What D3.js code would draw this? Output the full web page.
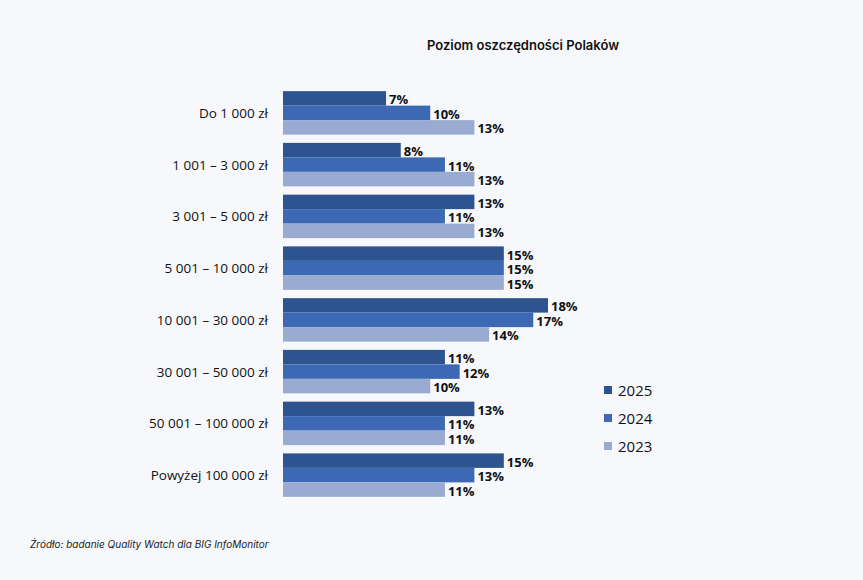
<!DOCTYPE html>
<html><head><meta charset="utf-8">
<script src="https://cdn.jsdelivr.net/npm/d3@7"></script>
<style>body{margin:0;background:#f7f8fc;}</style>
</head><body>
<svg id="chart" width="863" height="580"></svg>
<script>
var categories = ['Do 1 000 zł', '1 001 – 3 000 zł', '3 001 – 5 000 zł', '5 001 – 10 000 zł',
    '10 001 – 30 000 zł', '30 001 – 50 000 zł', '50 001 – 100 000 zł', 'Powyżej 100 000 zł'];
var years = ['2025', '2024', '2023'];
var values2025 = [7, 8, 13, 15, 18, 11, 13, 15];
var values2024 = [10, 11, 11, 15, 17, 12, 11, 13];
var values2023 = [13, 13, 13, 15, 14, 10, 11, 11];
var colors = ['#2e5490', '#3d68b3', '#9aabd1'];

var series = [values2025, values2024, values2023];
var svg = d3.select('#chart');
svg.append('rect').attr('width', 863).attr('height', 580).attr('fill', '#f7f8fc');

var x = d3.scaleLinear().domain([0, 18]).range([283, 548]);
var y = d3.scaleBand().domain(categories).range([87, 501]).paddingInner(0.16).paddingOuter(0.08);
var sub = d3.scaleBand().domain(years).range([0, y.bandwidth()]);

svg.append('text').attr('x', 523).attr('y', 50).attr('text-anchor', 'middle')
    .attr('font-family', 'Inter, sans-serif').attr('font-size', 13).attr('font-weight', 600)
    .attr('fill', '#111').text('Poziom oszczędności Polaków');

var groups = svg.selectAll('g.cat').data(categories).enter().append('g')
    .attr('transform', function(d) { return 'translate(0,' + y(d) + ')'; });

groups.append('text').attr('x', 268).attr('y', y.bandwidth() / 2 + 5).attr('text-anchor', 'end')
    .attr('font-family', '"Open Sans", sans-serif').attr('font-size', 13.5).attr('fill', '#111')
    .text(function(d) { return d; });

years.forEach(function(yr, j) {
    groups.append('rect')
        .attr('x', x(0)).attr('y', sub(yr))
        .attr('width', function(d, i) { return x(series[j][i]) - x(0); })
        .attr('height', sub.bandwidth())
        .attr('fill', colors[j]);
});
years.forEach(function(yr, j) {
    groups.append('text')
        .attr('x', function(d, i) { return x(series[j][i]) + 3; })
        .attr('y', sub(yr) + sub.bandwidth() / 2 + 6)
        .attr('font-family', '"Open Sans", sans-serif').attr('font-size', 13).attr('font-weight', 700)
        .attr('fill', '#111')
        .text(function(d, i) { return series[j][i] + '%'; });
});

var legend = svg.selectAll('g.leg').data(years).enter().append('g')
    .attr('transform', function(d, i) { return 'translate(604,' + (391 + i * 28) + ')'; });
legend.append('rect').attr('x', 0).attr('y', -5).attr('width', 8).attr('height', 8)
    .attr('fill', function(d, i) { return colors[i]; });
legend.append('text').attr('x', 14).attr('y', 5)
    .attr('font-family', '"Open Sans", sans-serif').attr('font-size', 15).attr('fill', '#111')
    .text(function(d) { return d; });

svg.append('text').attr('x', 30).attr('y', 548)
    .attr('font-family', 'Inter, sans-serif').attr('font-size', 10).attr('font-style', 'italic')
    .attr('fill', '#222').text('Źródło: badanie Quality Watch dla BIG InfoMonitor');
</script>
</body></html>
